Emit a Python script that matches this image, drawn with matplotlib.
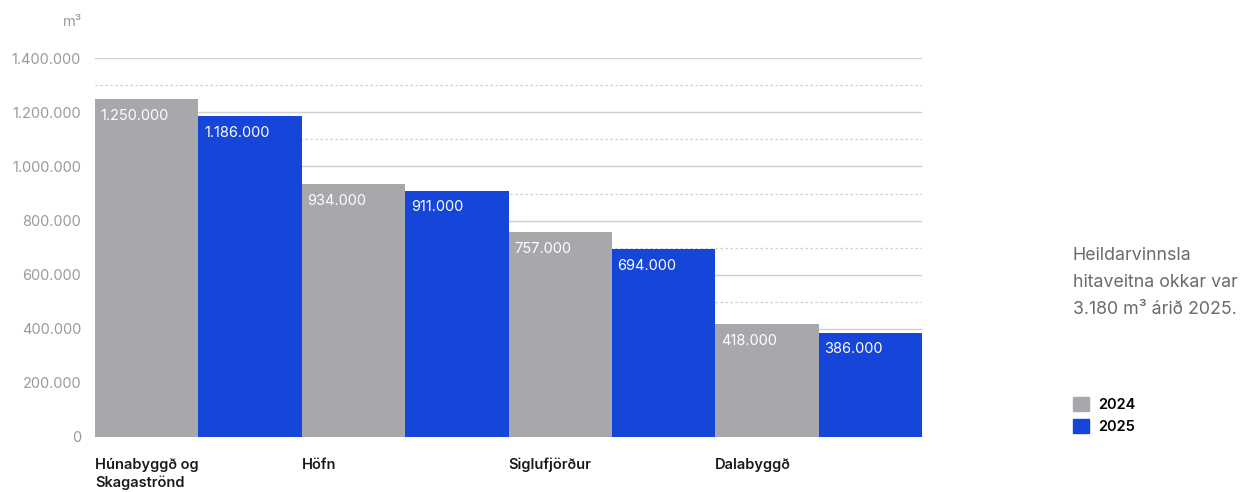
import matplotlib.pyplot as plt
from matplotlib.patches import Patch

# production per heating utility, m3
categories = ['Húnabyggð og\nSkagaströnd', 'Höfn', 'Siglufjörður', 'Dalabyggð']
values_2024 = [1250000, 934000, 757000, 418000]
values_2025 = [1186000, 911000, 694000, 386000]
years = ['2024', '2025']

gray = '#a7a8ab'
blue = '#1545d9'
tick_color = '#9a9a9a'
grid_color = '#cfcfcf'

plt.rcParams['font.family'] = ['Inter', 'DejaVu Sans']


def fmt(v):
    return f'{v:,.0f}'.replace(',', '.')


fig = plt.figure(figsize=(12.45, 4.92), dpi=100)
ax = fig.add_axes([0.0763, 0.1118, 0.6643, 0.7697])

x_gray = [2 * i for i in range(len(categories))]
x_blue = [2 * i + 1 for i in range(len(categories))]
ax.bar(x_gray, values_2024, width=1, align='edge', color=gray, zorder=3)
ax.bar(x_blue, values_2025, width=1, align='edge', color=blue, zorder=3)

for xs, vals in [(x_gray, values_2024), (x_blue, values_2025)]:
    for x, v in zip(xs, vals):
        ax.annotate(fmt(v), (x, v), xytext=(4, -7), textcoords='offset points',
                    ha='left', va='top', color='white', fontsize=10.5, zorder=4)

ax.set_xlim(0, 8)
ax.set_ylim(0, 1400000)

# solid grid every 200k, dotted halfway lines
major = list(range(0, 1400001, 200000))
ax.set_yticks(major)
ax.set_yticklabels([fmt(v) for v in major])
for v in major:
    ax.axhline(v, color=grid_color, lw=1, zorder=1)
for v in range(100000, 1400000, 200000):
    ax.axhline(v, color=grid_color, lw=0.9, ls=(0, (2, 2)), zorder=1)

ax.tick_params(axis='y', length=0, pad=10, labelsize=10.5, labelcolor=tick_color)
ax.set_xticks([])
for s in ax.spines.values():
    s.set_visible(False)

for x, name in zip(x_gray, categories):
    ax.text(x, -0.055, name, transform=ax.get_xaxis_transform(), ha='left', va='top',
            fontsize=10.5, fontweight='semibold', color='#1a1a1a', linespacing=1.3)

fig.text(82 / 1245, 1 - 22 / 492, 'm³', ha='right', va='center', fontsize=10.5, color=tick_color)

fig.text(1073 / 1245, 1 - 247 / 492, 'Heildarvinnsla\nhitaveitna okkar var\n3.180 m³ árið 2025.',
         ha='left', va='top', fontsize=12.8, color='#6a6a6a', linespacing=1.75)

handles = [Patch(color=gray), Patch(color=blue)]
leg = fig.legend(handles, years, loc='upper left', bbox_to_anchor=(1060 / 1245, 1 - 384 / 492),
                 frameon=False, handlelength=1.1, handleheight=1.1, handletextpad=0.6,
                 labelspacing=0.45, prop={'size': 10.5, 'weight': 'semibold'})

fig.savefig('out.png', dpi=100)
